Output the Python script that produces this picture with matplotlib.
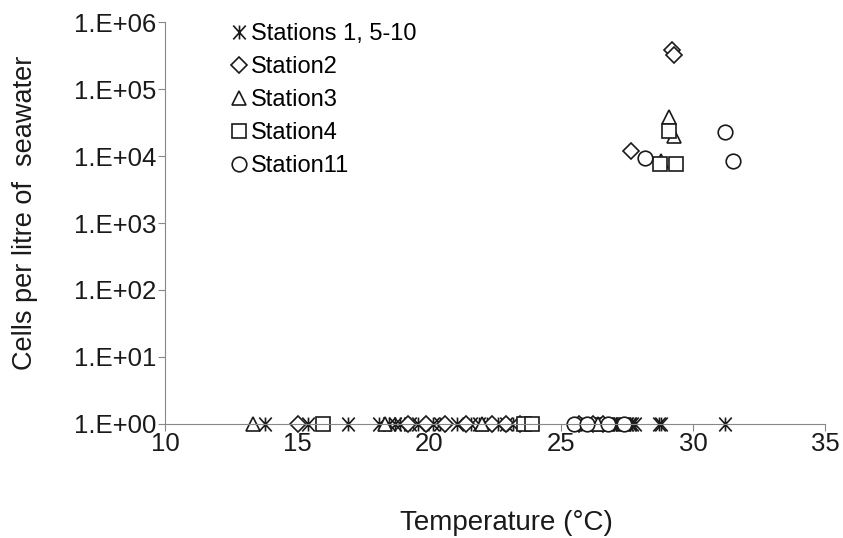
import matplotlib.pyplot as plt
from matplotlib.path import Path
import numpy as np

plt.rcParams['font.family'] = ['Liberation Sans', 'DejaVu Sans']

# Stations 1, 5-10 (all at detection floor of 1 cell/L)
st1_temp = [13.8, 15.4, 16.95, 18.1, 18.5, 18.7, 18.9, 19.3, 19.6, 20.15, 20.4,
            21.05, 21.6, 21.9, 22.2, 22.6, 22.9, 23.2, 25.9, 26.0, 26.1, 26.2,
            26.3, 26.4, 26.5, 26.6, 26.7, 26.8, 26.9, 27.0, 27.1, 27.2, 27.3,
            27.4, 27.5, 27.6, 27.7, 27.8, 28.7, 28.8, 31.2]
st1_cells = [1] * len(st1_temp)

st2_temp = [15.05, 19.2, 19.9, 20.6, 21.4, 22.4, 22.9, 23.45, 25.7, 26.2, 26.6,
            29.2, 29.3, 27.65]
st2_cells = [1] * 11 + [3.8e5, 3.2e5, 1.2e4]

st3_temp = [13.35, 18.33, 22.0, 26.4, 29.1, 29.3, 28.8]
st3_cells = [1, 1, 1, 1, 3.8e4, 2.0e4, 8.5e3]

st4_temp = [16.0, 23.6, 23.9, 29.1, 28.75, 29.35]
st4_cells = [1, 1, 1, 2.4e4, 7.5e3, 7.5e3]

st11_temp = [25.5, 26.0, 26.8, 27.4, 31.2, 31.5, 28.2]
st11_cells = [1, 1, 1, 1, 2.3e4, 8.3e3, 9.2e3]

# Excel-style asterisk: vertical bar plus an X
ast = Path([(0, -1), (0, 1), (-0.9, -1), (0.9, 1), (-0.9, 1), (0.9, -1)],
           [Path.MOVETO, Path.LINETO] * 3)

fig = plt.figure(figsize=(8.43, 5.38), dpi=100)
ax = fig.add_axes([0.1957, 0.2119, 0.7829, 0.7472])

kw = dict(linestyle='none', markerfacecolor='white', markeredgecolor='#1a1a1a',
          markeredgewidth=1.2, clip_on=False)
ax.plot(st1_temp, st1_cells, marker=ast, markersize=10, label='Stations 1, 5-10', **kw)
ax.plot(st2_temp, st2_cells, marker='D', markersize=8.2, label='Station2', **kw)
ax.plot(st3_temp, st3_cells, marker='^', markersize=10.5, label='Station3', **kw)
ax.plot(st4_temp, st4_cells, marker='s', markersize=10, label='Station4', **kw)
ax.plot(st11_temp, st11_cells, marker='o', markersize=10.5, label='Station11', **kw)

ax.set_yscale('log')
ax.set_ylim(1, 1e6)
ax.set_xlim(10, 35)
ax.set_yticks([10.0 ** k for k in range(7)])
ax.set_yticklabels(['1.E+%02d' % k for k in range(7)])
ax.minorticks_off()
ax.set_xticks([10, 15, 20, 25, 30, 35])

for s in ['top', 'right']:
    ax.spines[s].set_visible(False)
for s in ['left', 'bottom']:
    ax.spines[s].set_color('#888888')
ax.tick_params(axis='both', direction='out', length=5, color='#888888',
               labelsize=18.5, labelcolor='#1a1a1a')
ax.tick_params(axis='x', pad=1)
ax.tick_params(axis='y', pad=1)

ax.set_xlabel('Temperature (°C)', fontsize=20, color='#1a1a1a', labelpad=39)
ax.set_ylabel('Cells per litre of  seawater', fontsize=19.5, color='#1a1a1a', labelpad=26)
ax.xaxis.label.set_x(0.518)
ax.yaxis.label.set_y(0.525)

ax.legend(loc='upper left', bbox_to_anchor=(0.08, 1.027), frameon=False, fontsize=17,
          handlelength=0.8, handletextpad=0.1, labelspacing=0.47, borderpad=0)

plt.savefig('out.png', dpi=100)
